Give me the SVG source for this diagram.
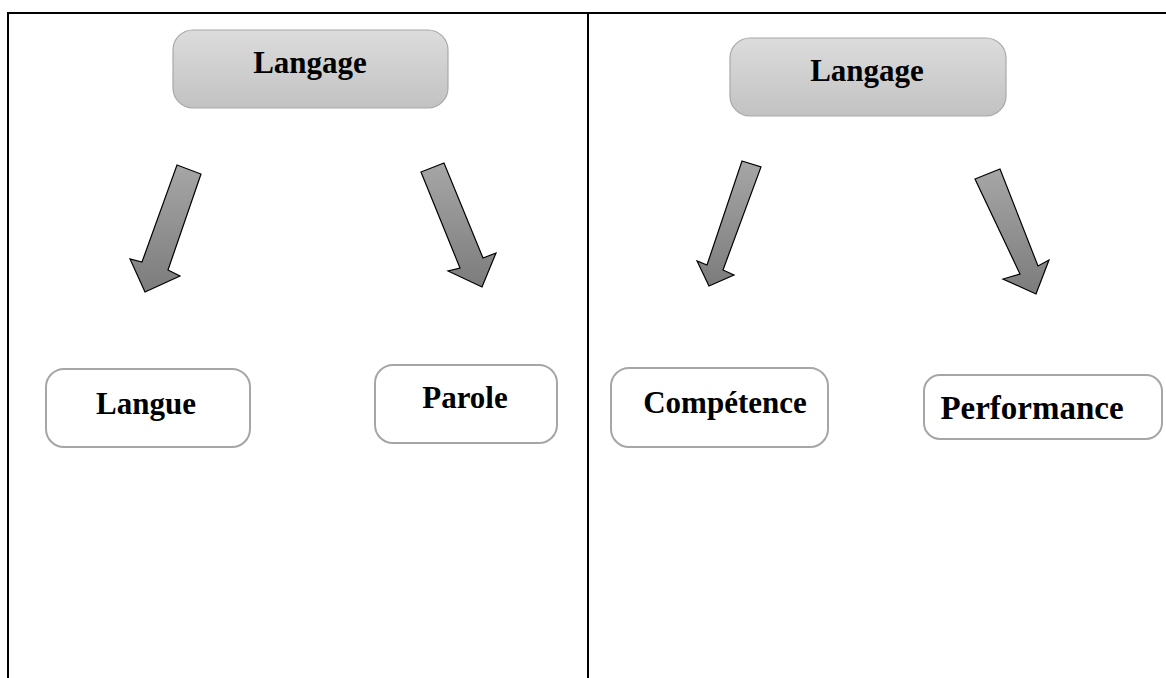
<svg xmlns="http://www.w3.org/2000/svg" width="1166" height="678" viewBox="0 0 1166 678">
<defs>
<linearGradient id="gBox" x1="0" y1="0" x2="0" y2="1">
<stop offset="0" stop-color="#dcdcdc"/>
<stop offset="1" stop-color="#c2c2c2"/>
</linearGradient>
<linearGradient id="gArr" x1="0" y1="0" x2="0" y2="1">
<stop offset="0" stop-color="#a6a6a6"/>
<stop offset="1" stop-color="#7c7c7c"/>
</linearGradient>
<style>
.hdr{fill:url(#gBox);stroke:#a8a8a8;stroke-width:1.2}
.box{fill:#ffffff;stroke:#a6a6a6;stroke-width:2}
.arr{fill:url(#gArr);stroke:#000;stroke-width:1.2;stroke-linejoin:miter}
.t{font-family:"Liberation Serif",serif;font-weight:bold;font-size:31px;fill:#000;text-anchor:middle}
.grid{stroke:#000;stroke-width:2;fill:none}
</style>
</defs>
<g id="table">
<line class="grid" x1="7" y1="13" x2="1166" y2="13"/>
<line class="grid" x1="8" y1="12" x2="8" y2="678"/>
<line class="grid" x1="588" y1="12" x2="588" y2="678"/>
</g>
<g id="langage-left">
<rect class="hdr" x="173" y="30" width="275" height="78" rx="20"/>
<text class="t" x="310" y="73">Langage</text>
</g>
<g id="langage-right">
<rect class="hdr" x="730" y="38" width="276" height="78" rx="20"/>
<text class="t" x="867" y="81">Langage</text>
</g>
<g id="langue">
<rect class="box" x="46" y="369" width="204" height="78" rx="18"/>
<text class="t" x="146" y="414">Langue</text>
</g>
<g id="parole">
<rect class="box" x="375" y="365" width="182" height="78" rx="18"/>
<text class="t" x="465" y="408">Parole</text>
</g>
<g id="competence">
<rect class="box" x="611" y="368" width="217" height="79" rx="18"/>
<text class="t" x="725" y="413">Compétence</text>
</g>
<g id="performance">
<rect class="box" x="924" y="375" width="238" height="64" rx="16"/>
<text class="t" x="1032" y="419" style="font-size:33px">Performance</text>
</g>
<g id="connectors">
<polygon class="arr" points="177,165 201,174 168,270 180,276 145,292 130,259 142,262"/>
<polygon class="arr" points="421,172 444,163 483,258 496,253 482,287 448,271 460,268"/>
<polygon class="arr" points="742,161 761,167 723,270 734,275 709,286 697,261 707,265"/>
<polygon class="arr" points="975,179 1000,169 1038,266 1049,260 1036,294 1003,279 1020,274"/>
</g>
</svg>
